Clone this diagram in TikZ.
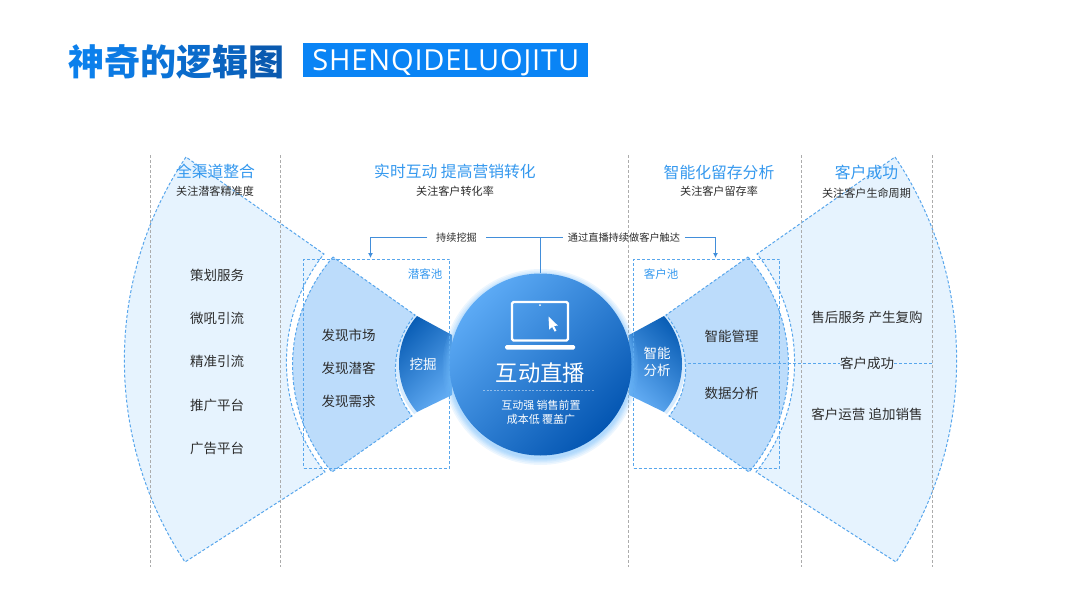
\documentclass[tikz,border=0pt]{standalone}
\usepackage{fontspec}
\usepackage{xcolor}
\usepackage{tikz}
\usetikzlibrary{arrows.meta, positioning, calc}
\setmainfont{Noto Sans CJK SC}
\newfontfamily\tagfont[LetterSpace=3]{Open Sans}
\newcommand{\fsz}[2]{\fontsize{#1}{#2}\selectfont}
\definecolor{titlelight}{RGB}{12, 128, 236}
\definecolor{titledark}{RGB}{10, 90, 176}
\definecolor{tagblue}{RGB}{10, 132, 245}
\definecolor{headblue}{RGB}{52, 152, 238}
\definecolor{inktext}{RGB}{44, 44, 44}
\definecolor{palefan}{RGB}{230, 243, 254}
\definecolor{midfan}{RGB}{188, 220, 251}
\definecolor{fanedge}{RGB}{88, 166, 236}
\definecolor{wedgedark}{RGB}{8, 92, 180}
\definecolor{wedgelight}{RGB}{96, 170, 242}
\definecolor{wedgeglow}{RGB}{214, 235, 254}
\definecolor{hublight}{RGB}{92, 170, 245}
\definecolor{hubdark}{RGB}{4, 86, 178}
\definecolor{halo}{RGB}{110, 185, 250}
\definecolor{linkblue}{RGB}{66, 142, 218}
\definecolor{railgray}{RGB}{172, 172, 172}
\tikzset{
  fanline/.style={draw=fanedge, line width=1pt, dash pattern=on 3pt off 2pt},
  palesector/.style={fanline, fill=palefan},
  midsector/.style={fanline, fill=midfan},
  railline/.style={draw=railgray, line width=1pt, dash pattern=on 3pt off 2pt},
  poolbox/.style={
    rectangle, fanline, minimum width=146pt, minimum height=209pt, inner sep=0pt
  },
  hubcircle/.style={
    circle, minimum size=182pt, inner sep=0pt,
    top color=hublight, bottom color=hubdark, shading angle=45
  },
  headtext/.style={inner sep=0pt, text=headblue, font=\fsz{15.8}{18}},
  subtext/.style={inner sep=0pt, text=inktext, font=\fsz{11.1}{13}},
  itemtext/.style={inner sep=0pt, minimum height=14pt, text=inktext, font=\fsz{13.5}{16}},
  poollabel/.style={inner sep=0pt, text=headblue, font=\fsz{11.5}{14}},
  linktext/.style={inner ysep=0pt, text=inktext, font=\fsz{10.2}{12}},
  wedgetext/.style={inner sep=0pt, text=white, align=center, font=\fsz{13.5}{17}},
  hubtext/.style={inner sep=0pt, text=white, align=center},
  linkline/.style={draw=linkblue, line width=1pt},
  droplink/.style={linkline, -{Latex[length=5pt, width=5pt]}}
}
% one wing of the bow, drawn once as it is and once mirrored
\newcommand{\bowwing}[1]{
  \path[palesector] (186,157) .. controls (104,279) and (104,440) .. (185,562)
    -- (325,472) .. controls (274,409) and (273.5,317) .. (324,254) -- cycle;
  \draw[wedgeglow, line width=7pt] (417,316) .. controls (393,343.5) and (393,384.5) .. (417,412);
  \path[midsector] (333,257) .. controls (279.5,319) and (279,410) .. (332,472)
    -- (412,416) .. controls (388,387) and (391,344) .. (415,315) -- cycle;
  \path[top color=wedgedark, bottom color=wedgelight, shading angle=#1]
    (417,316) .. controls (393,343.5) and (393,384.5) .. (417,412)
    -- (452,395) -- (452,335) -- cycle;
}

\begin{document}
\begin{tikzpicture}[x=1pt, y=-1pt]
  \useasboundingbox (0,0) rectangle (1080,608);

  % Title
  \node[anchor=west, inner sep=0pt, font=\fsz{36}{40}\bfseries] (title) at (68,62) {%
    \textcolor{titlelight}{神}\textcolor{titlelight!85!titledark}{奇}\textcolor{titlelight!65!titledark}{的}%
    \textcolor{titlelight!45!titledark}{逻}\textcolor{titlelight!25!titledark}{辑}\textcolor{titledark}{图}};
  \node[anchor=west, fill=tagblue, text=white, inner sep=0pt, text height=21pt, text depth=0pt, minimum width=285pt, minimum height=34pt, font=\fsz{29}{30}\tagfont] (tag) at (303,60) {SHENQIDELUOJITU};

  % Fans
  \bowwing{45}
  \begin{scope}[xshift=1081pt, xscale=-1]
    \bowwing{-45}
  \end{scope}

  % Rails
  \foreach \railx in {150.5,280.5,628.5,801.5,932.5}
    \draw[railline] (\railx,155) -- (\railx,567);

  % Pools
  \node[poolbox] (leftpool) at (376.8,363.5) {};
  \node[poolbox] (rightpool) at (706.5,363.5) {};
  \node[poollabel] (leftlabel) at (425,274) {潜客池};
  \node[poollabel] (rightlabel) at (661,274) {客户池};

  % Hub
  \foreach \halor in {92,93,94,95,96.5,98}
    \fill[halo, opacity=0.12] (540.5,367) circle[radius=\halor];
  \node[hubcircle] (hub) at (540.5,364.5) {};

  % Laptop
  \draw[white, line width=2.2pt, rounded corners=1.5pt] (512,302) rectangle (568,340.5);
  \fill[white] (540,305.2) circle[radius=1];
  \fill[white, rounded corners=1.5pt] (505,345) rectangle (575,349.5);
  \fill[white] (548.5,316.5) -- (557.8,325.5) -- (554,326) -- (556.4,330.8) -- (554.6,331.6) -- (552.2,327) -- (549.2,329.5) -- cycle;

  \node[hubtext, font=\fsz{22.3}{26}] (hubtitle) at (540.5,373) {互动直播};
  \draw[white, draw opacity=0.45, line width=0.6pt, dash pattern=on 2pt off 1.5pt] (483,390) -- (594,390);
  \node[hubtext, font=\fsz{11}{13.3}] (hubnote) at (541,412.3) {互动强 销售前置\\成本低 覆盖广};

  % Wedge labels
  \node[wedgetext] (dig) at (423,364) {挖掘};
  \node[wedgetext] (smart) at (657,361.5) {智能\\分析};

  % Column heads
  \node[headtext] (headone) at (215.5,171.5) {全渠道整合};
  \node[subtext] (subone) at (215,191.5) {关注潜客精准度};
  \node[headtext] (headtwo) at (455,171.5) {实时互动 提高营销转化};
  \node[subtext] (subtwo) at (455,191.5) {关注客户转化率};
  \node[headtext] (headthree) at (719,172) {智能化留存分析};
  \node[subtext] (subthree) at (719,191.5) {关注客户留存率};
  \node[headtext] (headfour) at (866.5,172) {客户成功};
  \node[subtext] (subfour) at (866.5,193) {关注客户生命周期};

  % Channel list
  \node[itemtext] (plan) at (217,275) {策划服务};
  \node[itemtext, below=29pt of plan] (vhall) {微吼引流};
  \node[itemtext, below=29pt of vhall] (target) {精准引流};
  \node[itemtext, below=29pt of target] (promo) {推广平台};
  \node[itemtext, below=29pt of promo] (ads) {广告平台};

  % Discovery list
  \node[itemtext] (market) at (348.5,335) {发现市场};
  \node[itemtext, below=19pt of market] (leads) {发现潜客};
  \node[itemtext, below=19pt of leads] (needs) {发现需求};

  % Retention list
  \node[itemtext] (manage) at (731.5,336) {智能管理};
  \node[itemtext, below=43pt of manage] (data) {数据分析};

  % Success list
  \node[itemtext] (aftersale) at (867,317) {售后服务 产生复购};
  \node[itemtext, inner xsep=0pt, minimum width=54pt] (success) at (867,363.5) {客户成功};
  \node[itemtext] (upsell) at (867,414) {客户运营 追加销售};
  \coordinate (successin) at (688,363.5);
  \coordinate (successout) at (933,363.5);
  \draw[fanline] (successin) -- (success);
  \draw[fanline] (success) -- (successout);

  % Links
  \coordinate (junction) at (540.5,237.5);
  \coordinate (leftdrop) at (370.5,258);
  \coordinate (rightdrop) at (715.5,258);
  \node[linktext, inner xsep=8.5pt] (keepdig) at (456.5,237.5) {持续挖掘};
  \node[linktext, inner xsep=4.5pt] (keepreach) at (624,237.5) {通过直播持续做客户触达};
  \draw[linkline] (hub.north) -- (junction);
  \draw[linkline] (junction) -- (keepdig);
  \draw[linkline] (junction) -- (keepreach);
  \draw[droplink] (keepdig) -| (leftdrop);
  \draw[droplink] (keepreach) -| (rightdrop);

\end{tikzpicture}
\end{document}
